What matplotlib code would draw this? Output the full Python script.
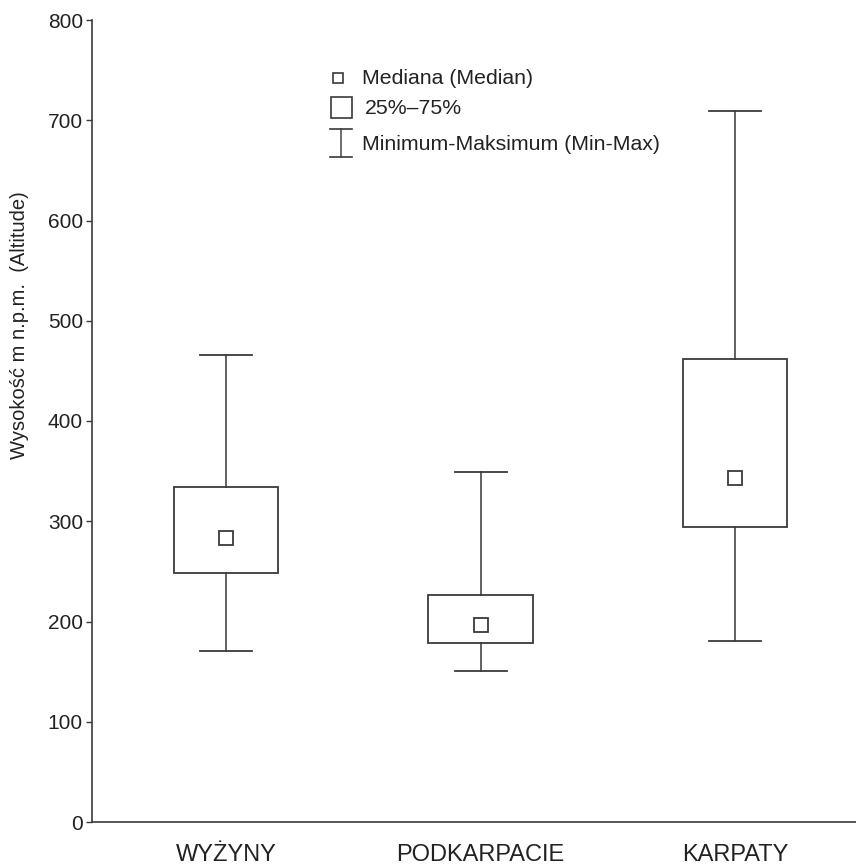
import matplotlib
matplotlib.use("Agg")
import matplotlib.pyplot as plt
from matplotlib.patches import Rectangle
from matplotlib.lines import Line2D

categories = ["WYŻYNY", "PODKARPACIE", "KARPATY"]
minimum = [171, 151, 181]
q1 = [248, 179, 294]
median = [283, 197, 343]
q3 = [334, 226, 462]
maximum = [466, 349, 709]
yticks = [0, 100, 200, 300, 400, 500, 600, 700, 800]

LC = "#3a3a3a"
WC = "#555555"
TC = "#222222"
font = ["Liberation Sans", "DejaVu Sans"]
plt.rcParams["font.family"] = font

fig = plt.figure(figsize=(8.56, 8.66), dpi=100)
ax = fig.add_axes([92/856, 44/866, 1 - 92/856, (822-20)/866])

bw = 0.41
cw = 0.205
for i in range(len(categories)):
    ax.add_patch(Rectangle((i - bw/2, q1[i]), bw, q3[i] - q1[i], fill=False,
                           edgecolor=LC, linewidth=1.3, zorder=3))
    ax.plot([i, i], [q3[i], maximum[i]], color=WC, lw=1.3, zorder=2)
    ax.plot([i, i], [minimum[i], q1[i]], color=WC, lw=1.3, zorder=2)
    ax.plot([i - cw/2, i + cw/2], [maximum[i], maximum[i]], color=LC, lw=1.3)
    ax.plot([i - cw/2, i + cw/2], [minimum[i], minimum[i]], color=LC, lw=1.3)
ax.plot(range(len(categories)), median, linestyle="none", marker="s",
        markersize=9.8, markerfacecolor="white", markeredgecolor=LC,
        markeredgewidth=1.3, zorder=4)

ax.set_xlim(-0.527, 2.475)
ax.set_ylim(0, 800)
ax.set_yticks(yticks)
ax.set_xticks(range(len(categories)))
ax.set_xticklabels(categories, fontsize=17, color=TC)
ax.tick_params(axis="x", length=0, pad=16)
ax.tick_params(axis="y", length=4.5, width=1, color=LC, labelsize=15, pad=2,
               labelcolor=TC)
for s in ["top", "right"]:
    ax.spines[s].set_visible(False)
for s in ["left", "bottom"]:
    ax.spines[s].set_color(LC)
    ax.spines[s].set_linewidth(1.2)
ax.set_ylabel("Wysokość m n.p.m.  (Altitude)", fontsize=14.5, color=TC)
ax.yaxis.set_label_coords(-0.083, 0.62)

# legend (drawn in figure pixel fractions)
def fx(px): return px / 856
def fy(py): return 1 - py / 866
fig.add_artist(Line2D([fx(338)], [fy(78)], marker="s", markersize=7.2,
                      markerfacecolor="white", markeredgecolor=LC, markeredgewidth=1.2))
fig.add_artist(Rectangle((fx(331), fy(118)), fx(352) - fx(331), fy(97) - fy(118),
                         fill=False, edgecolor=LC, linewidth=1.2))
fig.add_artist(Line2D([fx(341), fx(341)], [fy(129), fy(157)], color=WC, lw=1.2))
fig.add_artist(Line2D([fx(330), fx(352)], [fy(129), fy(129)], color=LC, lw=1.2))
fig.add_artist(Line2D([fx(330), fx(352)], [fy(157), fy(157)], color=LC, lw=1.2))
fig.text(fx(362), fy(78), "Mediana (Median)", fontsize=15.3, va="center", color=TC)
fig.text(fx(365), fy(108), "25%–75%", fontsize=15.3, va="center", color=TC)
fig.text(fx(362), fy(145), "Minimum-Maksimum (Min-Max)", fontsize=15.3, va="center", color=TC)

fig.savefig("out.png", dpi=100)
